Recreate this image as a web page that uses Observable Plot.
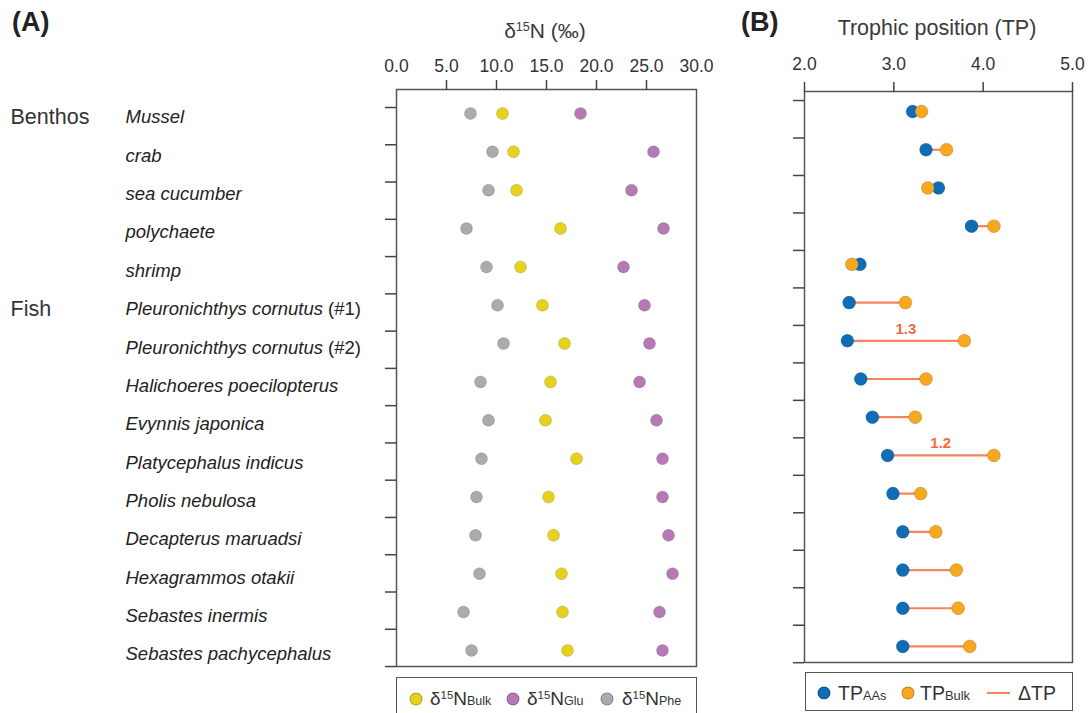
<!DOCTYPE html>
<html><head><meta charset="utf-8">
<script src="https://cdn.jsdelivr.net/npm/d3@7"></script>
<script src="https://cdn.jsdelivr.net/npm/@observablehq/plot@0.6"></script>
<style>
body{margin:0;background:#fff;font-family:"Liberation Sans",Arial,sans-serif;color:#333}
#wrap{position:relative;width:1092px;height:713px;overflow:hidden}
.abs{position:absolute;white-space:nowrap}
.c{transform:translate(-50%,-50%)}
.lv{transform:translate(0,-50%)}
.box{position:absolute;border:1.5px solid #555;box-sizing:border-box}
.dot{position:absolute;width:13px;height:13px;border-radius:50%;transform:translate(-50%,-50%);box-sizing:border-box;border:0.7px solid rgba(0,0,0,0.25)}
.sup{font-size:0.6em;vertical-align:0.55em}
.sub{font-size:0.66em}
</style></head><body><div id="wrap"></div><script>
// ---- data ----
const species = ["Mussel","crab","sea cucumber","polychaete","shrimp",
  "Pleuronichthys cornutus (#1)","Pleuronichthys cornutus (#2)","Halichoeres poecilopterus",
  "Evynnis japonica","Platycephalus indicus","Pholis nebulosa","Decapterus maruadsi",
  "Hexagrammos otakii","Sebastes inermis","Sebastes pachycephalus"];
const groupNames = ["Benthos","Fish"];
const groupFirst = ["Mussel","Pleuronichthys cornutus (#1)"];
const d15N_Bulk = [10.6,11.7,12.0,16.4,12.4,14.6,16.8,15.4,14.9,18.0,15.2,15.7,16.5,16.6,17.1];
const d15N_Glu  = [18.4,25.7,23.5,26.7,22.7,24.8,25.3,24.3,26.0,26.6,26.6,27.2,27.6,26.3,26.6];
const d15N_Phe  = [7.4,9.6,9.2,7.0,9.0,10.1,10.7,8.4,9.2,8.5,8.0,7.9,8.3,6.7,7.5];
const TP_AAs  = [3.21,3.36,3.50,3.87,2.62,2.50,2.48,2.63,2.76,2.93,2.99,3.10,3.10,3.10,3.10];
const TP_Bulk = [3.31,3.59,3.38,4.12,2.53,3.13,3.79,3.36,3.24,4.12,3.30,3.47,3.70,3.72,3.85];
const xTicksA = [0,5,10,15,20,25,30];
const xTicksB = [2,3,4,5];
const isoKeys = ["Phe","Bulk","Glu"];
const isoColors = ["#a9abae","#e6d21c","#b57ab6"];

// ---- tables ----
const rows = species.map((s,i)=>({s,i,a:TP_AAs[i],b:TP_Bulk[i]}));
const longA = [];
species.forEach((s,i)=>{
  longA.push({i,iso:"Phe",v:d15N_Phe[i]});
  longA.push({i,iso:"Bulk",v:d15N_Bulk[i]});
  longA.push({i,iso:"Glu",v:d15N_Glu[i]});
});
const groupRows = groupNames.map((g,k)=>({g,i:species.indexOf(groupFirst[k])}));

const FONT = '"Liberation Sans", Arial, sans-serif';
const wrap = document.getElementById("wrap");

// ---- panel A ----
const yTicksA = d3.range(16).map(k => (107 + 37.27*k - 113)/38.35);
const plotA = Plot.plot({
  width: 710, height: 672, marginLeft: 396, marginRight: 14, marginTop: 89, marginBottom: 6,
  style: {fontFamily: FONT, color: "#333", background: "transparent", fontSize: "17.5px", overflow: "visible"},
  x: {domain: [0,30]},
  y: {domain: [-0.626, 14.42], reverse: true},
  color: {domain: isoKeys, range: isoColors},
  marks: [
    Plot.frame({stroke: "#555", strokeWidth: 1.5}),
    Plot.axisX({anchor: "top", ticks: xTicksA, tickSize: 0, tickPadding: 18, tickFormat: d3.format(".1f"), label: null, fontSize: 17.5}),
    Plot.axisX({anchor: "top", ticks: xTicksA.slice(1,-1), tickSize: 10, tickFormat: () => "", label: null, stroke: "#444", strokeWidth: 1.5}),
    Plot.axisY({anchor: "left", ticks: yTicksA, tickSize: 11, tickFormat: () => "", label: null, stroke: "#444", strokeWidth: 1.5}),
    Plot.dot(longA, {x: "v", y: "i", fill: "iso", r: 6, stroke: "#000", strokeOpacity: 0.2, strokeWidth: 0.7}),
    Plot.text(rows, {y: "i", text: "s", frameAnchor: "left", dx: -271, dy: 4, textAnchor: "start", fontStyle: "italic", fontSize: 18.5, fill: "#222"}),
    Plot.text(groupRows, {y: "i", text: "g", frameAnchor: "left", dx: -386, dy: 4, textAnchor: "start", fontSize: 21.5, fill: "#333"})
  ]
});
plotA.style.position = "absolute"; plotA.style.left = "0px"; plotA.style.top = "0px";
wrap.appendChild(plotA);
// non-italic "(#n)" suffixes
d3.select(plotA).selectAll("text").each(function(){
  const t = this.textContent; const m = t.match(/^(.*) (\(#\d+\))$/);
  if (m && this.children.length === 0) {
    const sel = d3.select(this); sel.text("");
    sel.append("tspan").text(m[1] + " ");
    sel.append("tspan").attr("font-style","normal").text(m[2]);
  }
});

// ---- panel B ----
const yTicksB = d3.range(16).map(k => (100 + 37.47*k - 111)/38.2);
const plotB = Plot.plot({
  width: 372, height: 668, marginLeft: 84, marginRight: 20, marginTop: 91, marginBottom: 6,
  style: {fontFamily: FONT, color: "#333", background: "transparent", fontSize: "17.5px", overflow: "visible"},
  x: {domain: [2,5]},
  y: {domain: [-0.524, 14.42], reverse: true},
  marks: [
    Plot.frame({stroke: "#555", strokeWidth: 1.5}),
    Plot.axisX({anchor: "top", ticks: xTicksB, tickSize: 10, tickPadding: 12, tickFormat: d3.format(".1f"), label: null, stroke: "#444", strokeWidth: 1.5, fontSize: 17.5}),
    Plot.axisY({anchor: "left", ticks: yTicksB, tickSize: 11, tickFormat: () => "", label: null, stroke: "#444", strokeWidth: 1.5}),
    Plot.link(rows, {x1: "a", x2: "b", y1: "i", y2: "i", stroke: "#f4845f", strokeWidth: 2.2}),
    Plot.dot(rows, {x: "a", y: "i", r: 6.5, fill: "#0e6db5", stroke: "#000", strokeOpacity: 0.2, strokeWidth: 0.7}),
    Plot.dot(rows, {x: "b", y: "i", r: 6.5, fill: "#f6a821", stroke: "#000", strokeOpacity: 0.2, strokeWidth: 0.7}),
    Plot.text(rows.filter(d => d.b - d.a >= 1), {x: d => (d.a + d.b)/2, y: "i", text: d => d3.format(".1f")(d.b - d.a), dy: -12, fill: "#f26b43", fontSize: 15, fontWeight: 600})
  ]
});
plotB.style.position = "absolute"; plotB.style.left = "720px"; plotB.style.top = "0px";
wrap.appendChild(plotB);

// ---- titles ----
function addHTML(html, cls, left, top, css){
  const d = document.createElement("div");
  d.className = "abs " + cls; d.innerHTML = html;
  d.style.left = left + "px"; d.style.top = top + "px";
  Object.assign(d.style, css || {});
  wrap.appendChild(d); return d;
}
addHTML("(A)", "lv", 12, 22, {fontWeight: "bold", fontSize: "27px", color: "#222"});
addHTML("(B)", "lv", 741, 22, {fontWeight: "bold", fontSize: "27px", color: "#222"});
addHTML('δ<span class="sup">15</span>N (‰)', "c", 545, 31, {fontSize: "21px", color: "#3a3a3a"});
addHTML("Trophic position (TP)", "c", 937, 28, {fontSize: "21.5px", color: "#3a3a3a"});

// ---- legend A ----
const boxA = document.createElement("div"); boxA.className = "box";
Object.assign(boxA.style, {left: "396px", top: "677px", width: "301px", height: "44px"});
wrap.appendChild(boxA);
const legA = [["Bulk", 416, 430], ["Glu", 513, 527], ["Phe", 607, 622]];
legA.forEach(([k, cx, tx]) => {
  const d = document.createElement("div"); d.className = "dot";
  Object.assign(d.style, {left: cx + "px", top: "699px", background: isoColors[isoKeys.indexOf(k)]});
  wrap.appendChild(d);
  addHTML('δ<span class="sup">15</span>N<span class="sub">' + k + '</span>', "lv", tx, 699, {fontSize: "19px"});
});

// ---- legend B ----
const boxB = document.createElement("div"); boxB.className = "box";
Object.assign(boxB.style, {left: "805px", top: "672px", width: "268px", height: "39px"});
wrap.appendChild(boxB);
[["AAs", "#0e6db5", 824, 838], ["Bulk", "#f6a821", 908, 920]].forEach(([k, col, cx, tx]) => {
  const d = document.createElement("div"); d.className = "dot";
  Object.assign(d.style, {left: cx + "px", top: "693px", background: col});
  wrap.appendChild(d);
  addHTML('TP<span class="sub">' + k + '</span>', "lv", tx, 693, {fontSize: "19.5px"});
});
const ln = document.createElement("div");
Object.assign(ln.style, {position: "absolute", left: "987px", top: "692px", width: "23px", height: "2.2px", background: "#f4845f"});
wrap.appendChild(ln);
addHTML("ΔTP", "lv", 1018, 693, {fontSize: "19.5px"});
</script></body></html>
